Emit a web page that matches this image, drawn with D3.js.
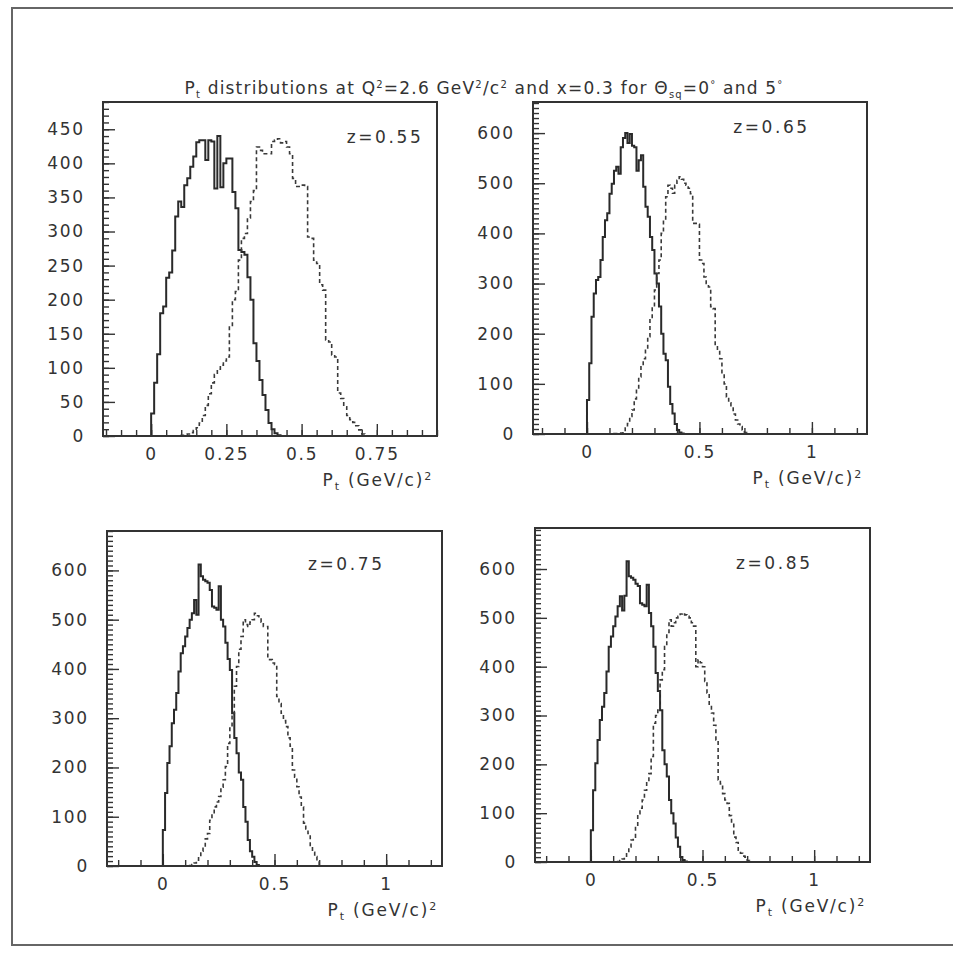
<!DOCTYPE html>
<html>
<head>
<meta charset="utf-8">
<script src="https://cdn.jsdelivr.net/npm/d3@7"></script>
<style>
body { margin: 0; background: #fff; }
text { font-family: "DejaVu Sans", sans-serif; fill: #333; }
</style>
</head>
<body>
<div id="chart"></div>
<script>
const WIDTH = 953;
const HEIGHT = 956;
const BIN = 0.01;

// z of each panel
const zValues = [0.55, 0.65, 0.75, 0.85];

// Theta = 0 deg (solid), bins of 0.01 starting at Pt^2 = 0
const solid055 = [33,78,120,180,190,232,240,272,322,344,336,368,378,395,410,431,434,434,405,434,432,363,440,365,400,407,407,358,334,273,270,266,233,200,136,110,82,60,38,19,10,4,1];
const solid065 = [68,141,234,280,307,313,347,393,426,440,479,499,525,533,519,572,590,600,580,598,575,572,525,546,556,493,453,433,393,367,320,300,254,200,160,147,94,60,41,20,8,3,1];
const solid075 = [73,148,209,243,290,317,351,395,432,446,466,483,500,513,540,510,612,588,581,578,575,560,527,524,520,568,500,486,453,420,398,310,260,229,190,175,120,90,53,30,19,8,2];
const solid085 = [65,147,202,250,291,318,346,390,441,462,483,503,524,544,515,545,616,585,582,578,570,565,530,527,524,568,510,483,441,387,350,311,229,200,175,127,100,79,50,31,10,4,1];

// Theta = 5 deg (dashed), bins of 0.01 starting at dashedStart
const dashedStart = [0.10, 0.12, 0.12, 0.12];
const dashed055 = [1,2,3,5,8,12,19,30,45,62,78,90,98,104,110,116,160,200,212,258,290,297,320,344,360,424,419,414,414,414,432,434,436,430,432,424,414,378,366,366,368,366,292,290,258,253,222,214,141,138,119,116,63,55,43,30,24,20,15,9,3];
const dashed065 = [1,1,1,2,5,12,21,35,48,70,90,114,134,150,167,194,230,254,287,320,347,400,426,473,496,490,480,496,506,513,508,500,496,490,479,420,420,418,347,340,313,300,293,254,250,174,167,150,120,100,74,62,54,40,28,20,15,8,3];
const dashed075 = [1,3,6,12,19,30,39,55,66,93,105,120,130,141,160,175,202,249,280,310,365,405,440,466,500,490,486,495,500,513,508,503,495,486,486,419,419,412,409,344,330,310,295,283,260,243,195,180,161,140,120,87,75,66,39,28,19,10,3];
const dashed085 = [1,3,6,10,20,31,45,51,72,99,110,127,147,165,181,216,284,300,311,373,394,441,470,496,483,490,500,503,508,510,506,503,500,490,483,400,414,408,400,370,346,320,305,280,250,168,160,140,127,120,95,79,51,40,24,18,12,10,3];

// tick labels
const xTicksFirst = [0, 0.25, 0.5, 0.75];
const xTicks = [0, 0.5, 1];
const yTicksFirst = [0, 50, 100, 150, 200, 250, 300, 350, 400, 450];
const yTicks = [0, 100, 200, 300, 400, 500, 600];

const solids = [solid055, solid065, solid075, solid085];
const dasheds = [dashed055, dashed065, dashed075, dashed085];

// panel frames (pixels) and axis ranges
const panels = [
    { left: 103, right: 437, top: 102, bottom: 436, xDom: [-0.16, 0.95], yDom: [0, 490], xMinor: 0.05, yMinor: 10, xt: xTicksFirst, yt: yTicksFirst, labelY: 430 },
    { left: 533, right: 867, top: 102, bottom: 434, xDom: [-0.24, 1.245], yDom: [0, 662], xMinor: 0.1, yMinor: 10, xt: xTicks, yt: yTicks, labelY: 600 },
    { left: 107, right: 442, top: 531, bottom: 866, xDom: [-0.25, 1.25], yDom: [0, 680], xMinor: 0.1, yMinor: 10, xt: xTicks, yt: yTicks, labelY: 600 },
    { left: 535, right: 870, top: 528, bottom: 862, xDom: [-0.25, 1.25], yDom: [0, 684], xMinor: 0.1, yMinor: 10, xt: xTicks, yt: yTicks, labelY: 600 }
];

const svg = d3.select("#chart")
    .append("svg")
        .attr("width", WIDTH)
        .attr("height", HEIGHT);

svg.append("rect")
    .attr("width", WIDTH).attr("height", HEIGHT)
    .attr("fill", "#fff");

// outer border of the page (runs off the right edge)
svg.append("rect")
    .attr("x", 12).attr("y", 8)
    .attr("width", 960).attr("height", 937)
    .attr("fill", "none")
    .attr("stroke", "#666")
    .attr("stroke-width", 2);

// writes text made of pieces: [string, "sub" | "sup" | ""]
function richText(sel, pieces, small) {
    let shift = 0;
    pieces.forEach(([s, mode]) => {
        const target = mode === "sub" ? 4 : mode === "sup" ? -6 : 0;
        sel.append("tspan")
            .attr("dy", target - shift)
            .attr("font-size", mode ? small : null)
            .text(s);
        shift = target;
    });
}

// title
const title = svg.append("text")
    .attr("x", 484).attr("y", 94)
    .attr("text-anchor", "middle")
    .attr("font-size", 17)
    .attr("letter-spacing", 1.2);
richText(title, [
    ["P", ""], ["t", "sub"], [" distributions at Q", ""], ["2", "sup"],
    ["=2.6 GeV", ""], ["2", "sup"], ["/c", ""], ["2", "sup"],
    [" and x=0.3 for \u0398", ""], ["sq", "sub"], ["=0", ""], ["\u00b0", "sup"],
    [" and 5", ""], ["\u00b0", "sup"]
], 10);

function range(a, b, step) {
    const out = [];
    for (let v = Math.ceil(a / step - 1e-9) * step; v <= b + 1e-9; v += step) out.push(+v.toFixed(4));
    return out;
}

panels.forEach((p, k) => {
    const g = svg.append("g");
    const x = d3.scaleLinear().domain(p.xDom).range([p.left, p.right]);
    const y = d3.scaleLinear().domain(p.yDom).range([p.bottom, p.top]);

    // minor ticks
    g.append("g")
        .attr("transform", `translate(0,${p.bottom})`)
        .call(d3.axisBottom(x).tickValues(range(p.xDom[0], p.xDom[1], p.xMinor)).tickSize(-6).tickSizeOuter(0).tickFormat(""))
        .call(a => a.select(".domain").remove());
    g.append("g")
        .attr("transform", `translate(${p.left},0)`)
        .call(d3.axisLeft(y).tickValues(range(p.yDom[0], p.yDom[1], p.yMinor)).tickSize(-6).tickSizeOuter(0).tickFormat(""))
        .call(a => a.select(".domain").remove());

    // major ticks with labels
    const xa = g.append("g")
        .attr("transform", `translate(0,${p.bottom})`)
        .call(d3.axisBottom(x).tickValues(p.xt).tickSize(-12).tickSizeOuter(0).tickPadding(12).tickFormat(d3.format("")))
        .call(a => a.select(".domain").remove());
    const ya = g.append("g")
        .attr("transform", `translate(${p.left},0)`)
        .call(d3.axisLeft(y).tickValues(p.yt).tickSize(-12).tickSizeOuter(0).tickPadding(18))
        .call(a => a.select(".domain").remove());

    [xa, ya].forEach(a => {
        a.attr("font-family", null).attr("font-size", null);
        a.selectAll("text").attr("font-size", 17).attr("letter-spacing", 1.8).attr("fill", "#333");
    });
    g.selectAll("line").attr("stroke", "#333").attr("stroke-width", 1.4);

    const line = d3.line()
        .x(d => x(d[0]))
        .y(d => y(d[1]))
        .curve(d3.curveStepAfter);

    function steps(values, start) {
        const pts = [[start, 0]];
        values.forEach((v, i) => pts.push([start + i * BIN, v]));
        pts.push([start + values.length * BIN, 0]);
        return pts;
    }

    g.append("path")
        .attr("d", line(steps(solids[k], 0)))
        .attr("fill", "none")
        .attr("stroke", "#2a2a2a")
        .attr("stroke-width", 2);

    g.append("path")
        .attr("d", line(steps(dasheds[k], dashedStart[k])))
        .attr("fill", "none")
        .attr("stroke", "#3a3a3a")
        .attr("stroke-width", 1.6)
        .attr("stroke-dasharray", "4,3");

    // frame
    g.append("rect")
        .attr("x", p.left).attr("y", p.top)
        .attr("width", p.right - p.left).attr("height", p.bottom - p.top)
        .attr("fill", "none")
        .attr("stroke", "#333")
        .attr("stroke-width", 2);

    // z label
    g.append("text")
        .attr("x", x(0.65)).attr("y", y(p.labelY))
        .attr("font-size", 17)
        .attr("letter-spacing", 2.6)
        .text(`z=${zValues[k]}`);

    // axis title
    const t = g.append("text")
        .attr("x", p.right - 4).attr("y", p.bottom + 50)
        .attr("text-anchor", "end")
        .attr("font-size", 17)
        .attr("letter-spacing", 1.8);
    richText(t, [["P", ""], ["t", "sub"], ["  (GeV/c)", ""], ["2", "sup"]], 11);
});
</script>
</body>
</html>
